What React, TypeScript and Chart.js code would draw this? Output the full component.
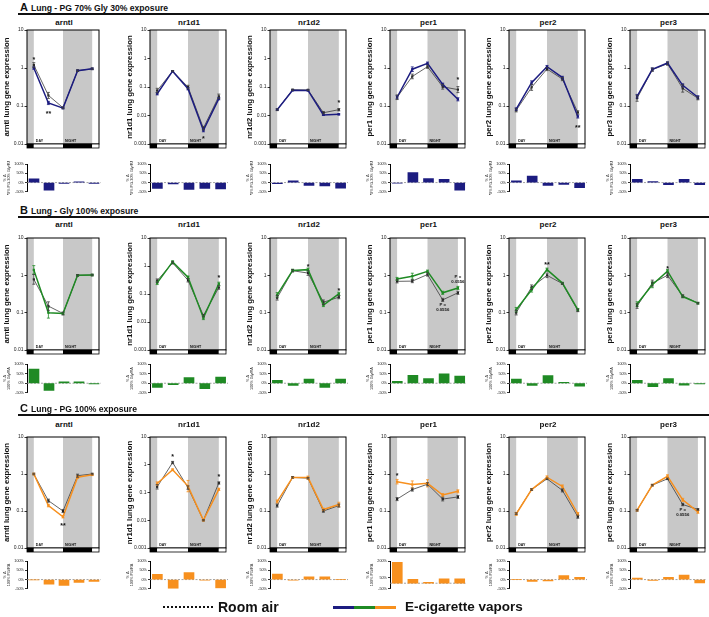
import React, { useEffect, useRef } from 'react';
import { Chart, registerables } from 'chart.js';
Chart.register(...registerables);

const FONT = '"Liberation Sans", Arial, Helvetica, sans-serif';
Chart.defaults.font.family = FONT;

// ---------- data ----------
const ZT_HOURS = [0, 6, 12, 18, 24];
const ZT_TICK_LABELS = ['ZT0', 'ZT6', 'ZT12', 'ZT18', 'ZT24'];
const GENES = ['arntl', 'nr1d1', 'nr1d2', 'per1', 'per2', 'per3'];
const LOG_TICKS_3 = [10, 1, 0.1, 0.01];
const LOG_TICKS_4 = [10, 1, 0.1, 0.01, 0.001];
const PCT_TICKS = [-50, 0, 50, 100];
const PCT_TICKS_WIDE = [-50, 0, 50, 100, 200];
const NIGHT_BANDS = [[-3, 0], [12, 24]];

// Row A: PG 70% Gly 30%
const rowA_exp = [
  [1.0, 0.12, 0.088, 0.85, 0.95],
  [0.058, 0.36, 0.087, 0.003, 0.039],
  [0.016, 0.077, 0.076, 0.0105, 0.011],
  [0.17, 0.93, 1.33, 0.37, 0.15],
  [0.083, 0.41, 1.08, 0.56, 0.053],
  [0.18, 0.92, 1.35, 0.35, 0.17],
];
const rowA_ra = [
  [1.2, 0.19, 0.09, 0.85, 0.95],
  [0.075, 0.36, 0.1, 0.0036, 0.047],
  [0.016, 0.08, 0.079, 0.0125, 0.016],
  [0.17, 0.6, 1.08, 0.32, 0.27],
  [0.077, 0.31, 0.94, 0.51, 0.068],
  [0.16, 0.9, 1.3, 0.29, 0.16],
];
const rowA_expErr = [
  [0.08, 0.1, 0.05, 0.05, 0.05],
  [0.1, 0.05, 0.1, 0.12, 0.1],
  [0.05, 0.05, 0.05, 0.05, 0.05],
  [0.1, 0.15, 0.08, 0.08, 0.1],
  [0.08, 0.12, 0.08, 0.08, 0.1],
  [0.12, 0.1, 0.08, 0.1, 0.1],
];
const rowA_raErr = [
  [0.15, 0.2, 0.05, 0.05, 0.05],
  [0.2, 0.05, 0.15, 0.15, 0.2],
  [0.08, 0.05, 0.05, 0.1, 0.1],
  [0.15, 0.15, 0.1, 0.15, 0.2],
  [0.1, 0.2, 0.1, 0.1, 0.1],
  [0.2, 0.1, 0.1, 0.25, 0.1],
];
const rowA_delta = [
  [20, -42, -5, 4, -4],
  [-32, -8, -37, -32, -35],
  [-6, 10, -15, -18, -30],
  [-3, 55, 22, 18, -42],
  [10, 35, -15, -10, -28],
  [18, 5, -12, 18, -12],
];
const rowA_yMin = [0.01, 0.001, 0.001, 0.01, 0.01, 0.01];
const rowA_barMax = [100, 100, 100, 100, 100, 100];
// [gene, ZT index, value, text]
const rowA_marks = [
  [0, 0, 1.8, '*'], [0, 1, 0.07, '**'], [1, 3, 0.0017, '*'],
  [2, 4, 0.033, '*'], [3, 4, 0.55, '*'], [4, 4, 0.03, '**'],
];

// Row B: Gly 100%
const rowB_exp = [
  [1.4, 0.1, 0.095, 1.0, 1.02],
  [0.25, 1.4, 0.4, 0.014, 0.23],
  [0.3, 1.35, 1.42, 0.16, 0.32],
  [0.8, 0.95, 1.28, 0.34, 0.46],
  [0.12, 0.41, 1.42, 0.62, 0.12],
  [0.17, 0.56, 1.3, 0.27, 0.18],
];
const rowB_ra = [
  [0.78, 0.15, 0.095, 1.0, 1.02],
  [0.3, 1.3, 0.31, 0.017, 0.17],
  [0.25, 1.33, 1.15, 0.19, 0.26],
  [0.69, 0.7, 1.05, 0.22, 0.34],
  [0.1, 0.48, 1.0, 0.6, 0.115],
  [0.15, 0.62, 1.0, 0.28, 0.18],
];
const rowB_expErr = [
  [0.3, 0.4, 0.05, 0.05, 0.05],
  [0.15, 0.1, 0.1, 0.15, 0.15],
  [0.15, 0.08, 0.1, 0.1, 0.1],
  [0.1, 0.2, 0.08, 0.1, 0.1],
  [0.15, 0.15, 0.1, 0.05, 0.08],
  [0.15, 0.2, 0.1, 0.08, 0.05],
];
const rowB_raErr = [
  [0.35, 0.3, 0.1, 0.05, 0.05],
  [0.15, 0.1, 0.15, 0.1, 0.15],
  [0.15, 0.08, 0.15, 0.15, 0.1],
  [0.1, 0.1, 0.1, 0.1, 0.1],
  [0.15, 0.15, 0.15, 0.05, 0.08],
  [0.15, 0.2, 0.15, 0.08, 0.05],
];
const rowB_delta = [
  [75, -38, 8, 8, -3],
  [-22, -8, 30, -28, 32],
  [15, -12, 22, -22, 22],
  [10, 42, 25, 50, 38],
  [22, -12, 40, 5, -15],
  [15, -18, 25, -10, -3],
];
const rowB_yMin = [0.01, 0.001, 0.01, 0.01, 0.01, 0.01];
const rowB_barMax = [100, 100, 100, 100, 100, 100];
const rowB_marks = [
  [1, 4, 0.42, '*'], [2, 2, 1.9, '*'], [2, 4, 0.44, '*'],
  [3, 3, 0.165, 'P ='], [3, 3, 0.12, '0.0556'],
  [3, 4, 0.94, 'P ='], [3, 4, 0.69, '0.0556'],
  [4, 2, 2.1, '**'], [5, 2, 1.7, '*'],
];

// Row C: PG 100%
const rowC_exp = [
  [1.0, 0.14, 0.07, 0.82, 0.95],
  [0.21, 0.66, 0.17, 0.01, 0.13],
  [0.18, 0.81, 0.8, 0.11, 0.15],
  [0.62, 0.52, 0.56, 0.27, 0.34],
  [0.083, 0.38, 0.81, 0.46, 0.083],
  [0.105, 0.5, 0.87, 0.2, 0.095],
];
const rowC_ra = [
  [1.0, 0.19, 0.1, 0.9, 1.0],
  [0.16, 1.2, 0.15, 0.01, 0.22],
  [0.14, 0.81, 0.77, 0.1, 0.14],
  [0.21, 0.38, 0.53, 0.21, 0.24],
  [0.085, 0.38, 0.74, 0.36, 0.07],
  [0.105, 0.5, 0.74, 0.15, 0.11],
];
const rowC_expErr = [
  [0.05, 0.08, 0.08, 0.08, 0.05],
  [0.15, 0.08, 0.6, 0.05, 0.1],
  [0.1, 0.05, 0.1, 0.08, 0.15],
  [0.15, 0.25, 0.25, 0.1, 0.1],
  [0.1, 0.05, 0.1, 0.1, 0.1],
  [0.05, 0.05, 0.1, 0.1, 0.1],
];
const rowC_raErr = [
  [0.05, 0.1, 0.1, 0.1, 0.05],
  [0.2, 0.1, 0.15, 0.05, 0.1],
  [0.1, 0.05, 0.05, 0.08, 0.1],
  [0.1, 0.1, 0.1, 0.12, 0.1],
  [0.05, 0.05, 0.05, 0.1, 0.1],
  [0.05, 0.05, 0.05, 0.08, 0.05],
];
const rowC_delta = [
  [-2, -25, -32, -15, -10],
  [28, -48, 38, -3, -45],
  [30, -3, 15, 15, 0],
  [190, 35, 8, 40, 40],
  [0, -10, -8, 22, 12],
  [8, -5, 12, 25, -18],
];
const rowC_yMin = [0.01, 0.001, 0.01, 0.01, 0.01, 0.01];
const rowC_barMax = [100, 100, 100, 200, 100, 100];
const rowC_marks = [
  [0, 2, 0.045, '**'], [1, 1, 2.2, '*'], [1, 4, 0.42, '*'],
  [3, 0, 1.0, '*'], [5, 3, 0.105, 'P ='], [5, 3, 0.08, '0.0556'],
];

// ---------- layout ----------
const X_MIN = -2.8;
const X_MAX = 26.8;
const COL_LEFT = [27, 150, 270, 390, 509, 630];
const COL_RIGHT = [101, 228, 348, 467, 587, 707];
const Y_AXIS_W = 26;

const ROWS = [
  {
    letter: 'A', title: 'Lung - PG 70% Gly 30% exposure', color: '#1c1c80',
    barTitle: ['% Δ', '70% PG-30% Gly/RA'],
    exp: rowA_exp, ra: rowA_ra, expErr: rowA_expErr, raErr: rowA_raErr,
    delta: rowA_delta, yMin: rowA_yMin, barMax: rowA_barMax, marks: rowA_marks,
    rule: 13, subTitle: 23, plotTop: 30, plotBottom: 144, barTop: 164, barBottom: 192,
  },
  {
    letter: 'B', title: 'Lung - Gly 100% exposure', color: '#1f8a24',
    barTitle: ['% Δ', '100% Gly/RA'],
    exp: rowB_exp, ra: rowB_ra, expErr: rowB_expErr, raErr: rowB_raErr,
    delta: rowB_delta, yMin: rowB_yMin, barMax: rowB_barMax, marks: rowB_marks,
    rule: 216, subTitle: 224.5, plotTop: 238, plotBottom: 350, barTop: 364, barBottom: 393,
  },
  {
    letter: 'C', title: 'Lung - PG 100% exposure', color: '#f7901e',
    barTitle: ['% Δ', '100% PG/RA'],
    exp: rowC_exp, ra: rowC_ra, expErr: rowC_expErr, raErr: rowC_raErr,
    delta: rowC_delta, yMin: rowC_yMin, barMax: rowC_barMax, marks: rowC_marks,
    rule: 414, subTitle: 425, plotTop: 437, plotBottom: 548, barTop: 561, barBottom: 589,
  },
];

// ---------- plugins ----------
function makeLinePlugin(row: any, g: number) {
  return {
    id: 'lineDeco',
    beforeDatasetsDraw(chart: any) {
      const { ctx, chartArea: a, scales } = chart;
      const x = scales.x;
      ctx.save();
      ctx.fillStyle = '#c8c8c8';
      for (const [s, e] of NIGHT_BANDS) {
        const x0 = Math.max(a.left, x.getPixelForValue(s));
        const x1 = Math.min(a.right, x.getPixelForValue(e));
        ctx.fillRect(x0, a.top, x1 - x0, a.bottom - a.top);
      }
      ctx.restore();
    },
    afterDatasetsDraw(chart: any) {
      const { ctx, scales } = chart;
      const y = scales.y;
      ctx.save();
      const errSets = [row.expErr[g], row.raErr[g]];
      chart.data.datasets.forEach((ds: any, di: number) => {
        const meta = chart.getDatasetMeta(di);
        ctx.strokeStyle = ds.borderColor;
        ctx.lineWidth = 0.8;
        meta.data.forEach((el: any, i: number) => {
          const v = ds.data[i].y;
          const e = errSets[di][i];
          const yt = y.getPixelForValue(v * (1 + e));
          const yb = y.getPixelForValue(v / (1 + e));
          ctx.beginPath();
          ctx.moveTo(el.x, yt); ctx.lineTo(el.x, yb);
          ctx.moveTo(el.x - 1.5, yt); ctx.lineTo(el.x + 1.5, yt);
          ctx.moveTo(el.x - 1.5, yb); ctx.lineTo(el.x + 1.5, yb);
          ctx.stroke();
        });
      });
      ctx.fillStyle = '#111';
      ctx.textAlign = 'center';
      ctx.textBaseline = 'middle';
      for (const m of row.marks) {
        if (m[0] !== g) continue;
        const px = scales.x.getPixelForValue(ZT_HOURS[m[1]]);
        const py = y.getPixelForValue(m[2]);
        const t = m[3] as string;
        if (t.indexOf('*') >= 0) {
          ctx.font = `bold 7px ${FONT}`;
          ctx.fillText(t, px, py + 2);
        } else {
          ctx.font = `bold 4.3px ${FONT}`;
          ctx.fillText(t, px, py);
        }
      }
      ctx.restore();
    },
    afterDraw(chart: any) {
      const { ctx, chartArea: a, scales } = chart;
      const x = scales.x;
      ctx.save();
      ctx.strokeStyle = '#000';
      ctx.lineWidth = 1;
      ctx.strokeRect(a.left, a.top, a.right - a.left, a.bottom - a.top);
      const sy = a.bottom;
      const sh = 4;
      const xs = [a.left, x.getPixelForValue(0), x.getPixelForValue(12), x.getPixelForValue(24), a.right];
      for (let k = 0; k < 4; k++) {
        ctx.fillStyle = k % 2 === 0 ? '#000' : '#fff';
        ctx.fillRect(xs[k], sy, xs[k + 1] - xs[k], sh);
      }
      ctx.lineWidth = 0.8;
      ctx.strokeRect(a.left, sy, a.right - a.left, sh);
      ctx.fillStyle = '#111';
      ctx.font = `bold 3.6px ${FONT}`;
      ctx.textAlign = 'left';
      ctx.textBaseline = 'bottom';
      ctx.fillText('DAY', xs[1] + 2, sy - 0.8);
      ctx.fillText('NIGHT', xs[2] + 2, sy - 0.8);
      ctx.restore();
    },
  };
}

const zeroLinePlugin = {
  id: 'zeroLine',
  beforeDatasetsDraw(chart: any) {
    const { ctx, chartArea: a, scales } = chart;
    const y0 = scales.y.getPixelForValue(0);
    ctx.save();
    ctx.strokeStyle = '#8a8a8a';
    ctx.lineWidth = 0.8;
    ctx.setLineDash([2, 1.5]);
    ctx.beginPath();
    ctx.moveTo(a.left, y0);
    ctx.lineTo(a.right, y0);
    ctx.stroke();
    ctx.restore();
  },
};

// ---------- configs ----------
function lineConfig(row: any, g: number) {
  const ticks = row.yMin[g] < 0.005 ? LOG_TICKS_4 : LOG_TICKS_3;
  return {
    type: 'line',
    data: {
      datasets: [
        {
          label: 'E-cigarette vapors',
          data: ZT_HOURS.map((h, i) => ({ x: h, y: row.exp[g][i] })),
          borderColor: row.color, backgroundColor: row.color,
          borderWidth: 1.5, pointStyle: 'rect', pointRadius: 1.6, pointBorderWidth: 0, tension: 0,
        },
        {
          label: 'Room air',
          data: ZT_HOURS.map((h, i) => ({ x: h, y: row.ra[g][i] })),
          borderColor: '#3c3c3c', backgroundColor: '#111',
          borderWidth: 0.8, pointStyle: 'rect', pointRadius: 1.5, pointBorderWidth: 0, tension: 0,
        },
      ],
    },
    options: {
      responsive: false, animation: false, events: [],
      layout: { padding: { top: 4, right: 2, left: 0, bottom: 0 } },
      plugins: { legend: { display: false }, tooltip: { enabled: false }, title: { display: false } },
      scales: {
        x: {
          type: 'linear', min: X_MIN, max: X_MAX, offset: false,
          afterBuildTicks: (s: any) => { s.ticks = ZT_HOURS.map((v) => ({ value: v })); },
          afterFit: (s: any) => { s.height = 12; },
          grid: { display: false }, border: { display: false },
          ticks: {
            font: { size: 4, family: FONT }, color: '#222', padding: 5, maxRotation: 0, autoSkip: false,
            callback: (v: number) => ZT_TICK_LABELS[ZT_HOURS.indexOf(v)],
          },
        },
        y: {
          type: 'logarithmic', min: row.yMin[g], max: 10,
          afterBuildTicks: (s: any) => { s.ticks = ticks.map((v) => ({ value: v })); },
          afterFit: (s: any) => { s.width = Y_AXIS_W; },
          grid: { drawOnChartArea: false, color: '#000', tickLength: 2.5, lineWidth: 0.8 },
          border: { display: true, color: '#000', width: 1 },
          ticks: { font: { size: 5, family: FONT }, color: '#222', padding: 1, callback: (v: number) => String(v) },
          title: {
            display: true, text: `${GENES[g]} lung gene expression`,
            font: { size: 7.8, weight: 'bold', family: FONT }, color: '#111', padding: { top: 1.5, bottom: 0 },
          },
        },
      },
    },
    plugins: [makeLinePlugin(row, g)],
  };
}

function barConfig(row: any, g: number) {
  const max = row.barMax[g];
  const ticks = max > 100 ? PCT_TICKS_WIDE : PCT_TICKS;
  return {
    type: 'bar',
    data: {
      datasets: [{
        data: ZT_HOURS.map((h, i) => ({ x: h, y: row.delta[g][i] })),
        backgroundColor: row.color, borderWidth: 0, barThickness: 10,
      }],
    },
    options: {
      responsive: false, animation: false, events: [],
      layout: { padding: { top: 3, right: 2, left: 0, bottom: 3 } },
      plugins: { legend: { display: false }, tooltip: { enabled: false } },
      scales: {
        x: { type: 'linear', min: X_MIN, max: X_MAX, offset: false, grid: { offset: false }, display: false },
        y: {
          min: -50, max,
          afterBuildTicks: (s: any) => { s.ticks = ticks.map((v) => ({ value: v })); },
          afterFit: (s: any) => { s.width = Y_AXIS_W; },
          grid: { drawOnChartArea: false, color: '#000', tickLength: 2, lineWidth: 0.8 },
          border: { display: true, color: '#000', width: 1 },
          ticks: { font: { size: 3.8, family: FONT }, color: '#222', padding: 1, callback: (v: number) => `${v}%` },
          title: {
            display: true, text: row.barTitle,
            font: { size: 3.8, family: FONT }, color: '#222', padding: { top: 1.5, bottom: 0 },
          },
        },
      },
    },
    plugins: [zeroLinePlugin],
  };
}

// ---------- components ----------
function ChartCanvas({ left, top, width, height, build }: any) {
  const ref = useRef<HTMLCanvasElement>(null);
  useEffect(() => {
    const chart = new Chart(ref.current as HTMLCanvasElement, build());
    return () => chart.destroy();
  }, []);
  return (
    <canvas
      ref={ref}
      width={width}
      height={height}
      style={{ position: 'absolute', left, top, width, height, display: 'block' }}
    />
  );
}

function RowBlock({ row }: any) {
  return (
    <>
      <div style={{ position: 'absolute', left: 20, top: row.rule - 13, height: 12, lineHeight: '12px', whiteSpace: 'nowrap', fontWeight: 'bold', color: '#111' }}>
        <span style={{ fontSize: 11 }}>{row.letter}</span>
        <span style={{ fontSize: 8.6, marginLeft: 3 }}>{row.title}</span>
      </div>
      <div style={{ position: 'absolute', left: 18, top: row.rule, width: 691, height: 2, background: '#111' }} />
      {GENES.map((gene, g) => {
        const cl = COL_LEFT[g] - Y_AXIS_W;
        const w = COL_RIGHT[g] - cl + 2;
        return (
          <React.Fragment key={gene}>
            <div style={{ position: 'absolute', left: COL_LEFT[g], width: COL_RIGHT[g] - COL_LEFT[g], top: row.subTitle - 6, height: 12, lineHeight: '12px', textAlign: 'center', fontSize: 8, fontWeight: 'bold', color: '#111' }}>
              {gene}
            </div>
            <ChartCanvas
              left={cl}
              top={row.plotTop - 4}
              width={w}
              height={row.plotBottom - row.plotTop + 16}
              build={() => lineConfig(row, g)}
            />
            <ChartCanvas
              left={cl}
              top={row.barTop - 3}
              width={w}
              height={row.barBottom - row.barTop + 6}
              build={() => barConfig(row, g)}
            />
          </React.Fragment>
        );
      })}
    </>
  );
}

export default function App() {
  return (
    <div style={{ position: 'absolute', left: 0, top: 0, width: 709, height: 617, background: '#fff', overflow: 'hidden', fontFamily: FONT }}>
      {ROWS.map((row) => <RowBlock key={row.letter} row={row} />)}
      <div style={{ position: 'absolute', left: 163, top: 606, width: 50, height: 0, borderTop: '2.5px dotted #111' }} />
      <div style={{ position: 'absolute', left: 218, top: 599, lineHeight: '16px', fontSize: 14, fontWeight: 'bold', color: '#111', whiteSpace: 'nowrap' }}>Room air</div>
      <div style={{ position: 'absolute', left: 333, top: 606, width: 21, height: 3, background: ROWS[0].color }} />
      <div style={{ position: 'absolute', left: 354, top: 606, width: 21, height: 3, background: ROWS[1].color }} />
      <div style={{ position: 'absolute', left: 375, top: 606, width: 21, height: 3, background: ROWS[2].color }} />
      <div style={{ position: 'absolute', left: 405, top: 599, lineHeight: '16px', fontSize: 13.5, fontWeight: 'bold', color: '#111', whiteSpace: 'nowrap' }}>E-cigarette vapors</div>
    </div>
  );
}
